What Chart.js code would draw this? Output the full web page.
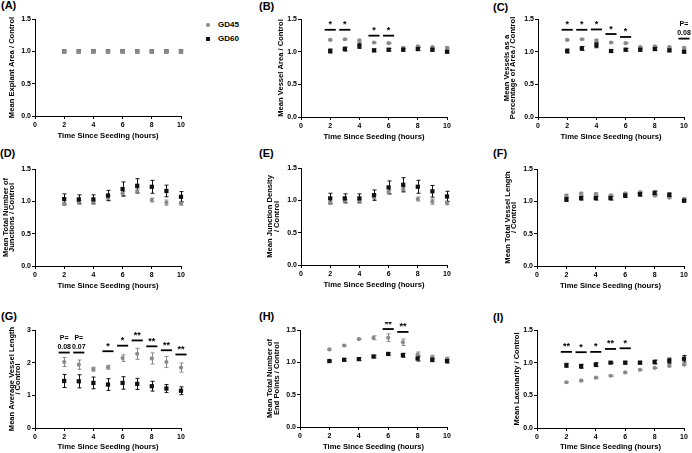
<!DOCTYPE html>
<html>
<head>
<meta charset="utf-8">
<script src="https://cdn.jsdelivr.net/npm/chart.js@4.4.0/dist/chart.umd.min.js"></script>
<style>
  body { margin: 0; background: #fff; width: 692px; height: 453px; position: relative; overflow: hidden;
         font-family: "Liberation Sans", Arial, sans-serif; }
  canvas { position: absolute; }
  .lab { position: absolute; font-weight: bold; font-size: 11px; line-height: 11px; }
  .leg { position: absolute; font-weight: bold; font-size: 8px; line-height: 10px; }
  .dot { position: absolute; }
</style>
</head>
<body>
<div class="lab" style="left:1px;top:0px">(A)</div>
<div class="lab" style="left:259px;top:1px">(B)</div>
<div class="lab" style="left:493px;top:2px">(C)</div>
<div class="lab" style="left:0px;top:148px">(D)</div>
<div class="lab" style="left:259px;top:148px">(E)</div>
<div class="lab" style="left:493px;top:148px">(F)</div>
<div class="lab" style="left:1px;top:311px">(G)</div>
<div class="lab" style="left:259px;top:311px">(H)</div>
<div class="lab" style="left:493px;top:312px">(I)</div>

<div class="dot" style="left:206px;top:23px;width:3.8px;height:3.8px;border-radius:50%;background:#8a8a8a"></div>
<div class="leg" style="left:218px;top:20px">GD45</div>
<div class="dot" style="left:206px;top:37px;width:4px;height:4px;background:#111"></div>
<div class="leg" style="left:218px;top:34px">GD60</div>

<canvas id="cA"></canvas>
<canvas id="cB"></canvas>
<canvas id="cC"></canvas>
<canvas id="cD"></canvas>
<canvas id="cE"></canvas>
<canvas id="cF"></canvas>
<canvas id="cG"></canvas>
<canvas id="cH"></canvas>
<canvas id="cI"></canvas>

<script>
const hours = [2, 3, 4, 5, 6, 7, 8, 9, 10];
const xTicks = [0, 2, 4, 6, 8, 10];
const yTicksRatio = [0, 0.5, 1, 1.5];
const yTicksLength = [0, 1, 2, 3];
const seriesNames = ['GD45', 'GD60'];

// (A) explant area
const explantGd45 = [1, 1, 1, 1, 1, 1, 1, 1, 1];
const explantGd60 = [1, 1, 1, 1, 1, 1, 1, 1, 1];

// (B) vessel area
const vesselAreaGd45 = [1.18, 1.19, 1.17, 1.14, 1.13, 1.06, 1.08, 1.07, 1.06];
const vesselAreaGd45Err = [0.01, 0.01, 0.02, 0.01, 0.01, 0.01, 0.01, 0.01, 0.01];
const vesselAreaGd60 = [1.01, 1.04, 1.09, 1.02, 1.03, 1.03, 1.04, 1.03, 1.00];
const vesselAreaGd60Err = [0.03, 0.03, 0.04, 0.02, 0.02, 0.02, 0.02, 0.02, 0.02];
const vesselAreaSigX = [2, 3, 5, 6];
const vesselAreaSigY = [1.335, 1.335, 1.245, 1.245];
const vesselAreaSigText = ['*', '*', '*', '*'];

// (C) vessels as percentage of area
const vesselPctGd45 = [1.18, 1.19, 1.17, 1.14, 1.13, 1.07, 1.08, 1.07, 1.06];
const vesselPctGd45Err = [0.01, 0.01, 0.02, 0.01, 0.01, 0.01, 0.01, 0.01, 0.01];
const vesselPctGd60 = [1.01, 1.05, 1.10, 1.01, 1.03, 1.03, 1.04, 1.02, 1.00];
const vesselPctGd60Err = [0.03, 0.03, 0.04, 0.02, 0.02, 0.02, 0.02, 0.02, 0.02];
const vesselPctSigX = [2, 3, 4, 5, 6, 10];
const vesselPctSigY = [1.335, 1.335, 1.34, 1.27, 1.225, 1.2];
const vesselPctSigText = ['*', '*', '*', '*', '*', ['P=', '0.08']];

// (D) junctions
const junctionsGd45 = [0.96, 0.99, 0.99, 1.05, 1.12, 1.16, 1.02, 0.98, 0.97];
const junctionsGd45Err = [0.02, 0.02, 0.02, 0.03, 0.03, 0.03, 0.03, 0.04, 0.03];
const junctionsGd60 = [1.035, 1.03, 1.03, 1.09, 1.19, 1.24, 1.225, 1.16, 1.07];
const junctionsGd60Err = [0.08, 0.07, 0.07, 0.08, 0.11, 0.11, 0.10, 0.09, 0.08];

// (E) junction density
const densityGd45 = [0.96, 0.99, 0.99, 1.05, 1.13, 1.17, 1.02, 0.98, 0.96];
const densityGd45Err = [0.02, 0.02, 0.02, 0.03, 0.03, 0.03, 0.03, 0.04, 0.03];
const densityGd60 = [1.03, 1.03, 1.03, 1.08, 1.20, 1.24, 1.21, 1.14, 1.06];
const densityGd60Err = [0.08, 0.07, 0.07, 0.08, 0.10, 0.11, 0.10, 0.09, 0.08];

// (F) total vessel length
const lengthGd45 = [1.09, 1.12, 1.11, 1.09, 1.12, 1.14, 1.09, 1.06, 1.035];
const lengthGd45Err = [0.02, 0.02, 0.02, 0.02, 0.02, 0.02, 0.02, 0.02, 0.02];
const lengthGd60 = [1.03, 1.05, 1.05, 1.05, 1.09, 1.11, 1.13, 1.10, 1.01];
const lengthGd60Err = [0.03, 0.03, 0.03, 0.03, 0.03, 0.03, 0.03, 0.03, 0.02];

// (G) average vessel length
const avgLengthGd45 = [2.02, 1.94, 1.80, 1.86, 2.14, 2.27, 2.13, 2.02, 1.85];
const avgLengthGd45Err = [0.14, 0.14, 0.06, 0.06, 0.10, 0.17, 0.17, 0.17, 0.14];
const avgLengthGd60 = [1.44, 1.43, 1.38, 1.33, 1.38, 1.35, 1.28, 1.21, 1.14];
const avgLengthGd60Err = [0.20, 0.20, 0.18, 0.18, 0.19, 0.17, 0.15, 0.12, 0.12];
const avgLengthSigX = [2, 3, 5, 6, 7, 8, 9, 10];
const avgLengthSigY = [2.31, 2.31, 2.35, 2.52, 2.68, 2.50, 2.38, 2.25];
const avgLengthSigText = [['P=', '0.08'], ['P=', '0.07'], '*', '*', '**', '**', '**', '**'];

// (H) end points
const endPointsGd45 = [1.20, 1.26, 1.36, 1.38, 1.38, 1.31, 1.12, 1.08, 1.05];
const endPointsGd45Err = [0.01, 0.01, 0.01, 0.03, 0.06, 0.05, 0.04, 0.03, 0.03];
const endPointsGd60 = [1.02, 1.04, 1.05, 1.09, 1.13, 1.11, 1.06, 1.04, 1.02];
const endPointsGd60Err = [0.01, 0.02, 0.02, 0.02, 0.02, 0.03, 0.04, 0.03, 0.03];
const endPointsSigX = [6, 7];
const endPointsSigY = [1.515, 1.47];
const endPointsSigText = ['**', '**'];

// (I) lacunarity
const lacunarityGd45 = [0.70, 0.725, 0.77, 0.80, 0.85, 0.89, 0.92, 0.95, 0.97];
const lacunarityGd45Err = [0.01, 0.01, 0.01, 0.01, 0.01, 0.01, 0.01, 0.01, 0.01];
const lacunarityGd60 = [0.96, 0.945, 0.97, 1.00, 1.00, 1.00, 1.01, 1.03, 1.06];
const lacunarityGd60Err = [0.03, 0.03, 0.03, 0.01, 0.02, 0.02, 0.03, 0.04, 0.05];
const lacunaritySigX = [2, 3, 4, 5, 6];
const lacunaritySigY = [1.165, 1.16, 1.165, 1.21, 1.22];
const lacunaritySigText = ['**', '*', '*', '**', '*'];

const FONT = '"Liberation Sans", Arial, sans-serif';
const GRAY = '#8a8a8a';
const BLACK = '#111111';
const YW = 35, XH = 26, PT = 8, PR = 10;

// error bars drawn under the markers
const errorBars = {
  id: 'errorBars',
  beforeDatasetsDraw(chart) {
    const { ctx, scales: { x, y } } = chart;
    chart.data.datasets.forEach(ds => {
      if (!ds.errors) return;
      ctx.save();
      ctx.strokeStyle = ds.borderColor;
      ctx.lineWidth = 1;
      ds.data.forEach((pt, j) => {
        const e = ds.errors[j];
        if (!e) return;
        const px = Math.round(x.getPixelForValue(pt.x)) + 0.5;
        const y1 = y.getPixelForValue(pt.y + e);
        const y2 = y.getPixelForValue(pt.y - e);
        ctx.beginPath();
        ctx.moveTo(px, y1); ctx.lineTo(px, y2);
        ctx.moveTo(px - 2, y1); ctx.lineTo(px + 2, y1);
        ctx.moveTo(px - 2, y2); ctx.lineTo(px + 2, y2);
        ctx.stroke();
      });
      ctx.restore();
    });
  }
};

// significance bars with stars / p-values
const sigBars = {
  id: 'sigBars',
  afterDatasetsDraw(chart, args, opts) {
    if (!opts.x) return;
    const { ctx, scales: { x, y } } = chart;
    ctx.save();
    ctx.fillStyle = '#000';
    ctx.strokeStyle = '#000';
    ctx.lineWidth = 1.8;
    ctx.textAlign = 'center';
    ctx.textBaseline = 'alphabetic';
    opts.x.forEach((xv, i) => {
      const py = y.getPixelForValue(opts.y[i]);
      const x1 = x.getPixelForValue(xv - 0.38);
      const x2 = x.getPixelForValue(xv + 0.38);
      const cx = x.getPixelForValue(xv);
      ctx.beginPath();
      ctx.moveTo(x1, py); ctx.lineTo(x2, py);
      ctx.stroke();
      const t = opts.text[i];
      if (Array.isArray(t)) {
        ctx.font = 'bold 7px ' + FONT;
        ctx.fillText(t[1], cx, py - 3.5);
        ctx.fillText(t[0], cx, py - 12.5);
      } else {
        ctx.font = 'bold 9px ' + FONT;
        ctx.fillText(t, cx, py - 2.5);
      }
    });
    ctx.restore();
  }
};

function pts(vals) {
  return hours.map((h, i) => ({ x: h, y: vals[i] }));
}

function makePanel(id, box, p) {
  const canvas = document.getElementById(id);
  const w = box.right - box.left + YW + PR;
  const h = box.bottom - box.top + PT + XH;
  canvas.width = w; canvas.height = h;
  canvas.style.left = (box.left - YW) + 'px';
  canvas.style.top = (box.top - PT) + 'px';
  canvas.style.width = w + 'px';
  canvas.style.height = h + 'px';

  const lines = Array.isArray(p.yTitle) ? p.yTitle.length : 1;
  const yFont = 7.6, yLH = lines > 1 ? 0.85 : 1.2;
  const yPadTop = box.titleX - (box.left - YW) - yFont * yLH / 2;
  const xFont = 7.7, xLH = 1.2;
  const xPadBottom = XH - box.titleDy - xFont * xLH / 2;

  const grayTop = !!p.grayTop;
  new Chart(canvas, {
    type: 'scatter',
    data: {
      datasets: [
        { label: seriesNames[0], data: pts(p.gd45), errors: p.gd45Err,
          pointStyle: grayTop ? 'rect' : 'circle', pointRadius: grayTop ? 3 : 2.1,
          backgroundColor: GRAY, borderColor: GRAY, borderWidth: 0, clip: false, order: grayTop ? 0 : 1 },
        { label: seriesNames[1], data: pts(p.gd60), errors: p.gd60Err,
          pointStyle: 'rect', pointRadius: 3,
          backgroundColor: BLACK, borderColor: BLACK, borderWidth: 0, clip: false, order: grayTop ? 1 : 0 }
      ]
    },
    options: {
      responsive: false,
      animation: false,
      events: [],
      layout: { padding: { top: PT, right: PR, left: 0, bottom: 0 } },
      plugins: {
        legend: { display: false },
        tooltip: { enabled: false },
        sigBars: { x: p.sigX, y: p.sigY, text: p.sigText }
      },
      scales: {
        x: {
          type: 'linear', min: 0, max: 10,
          afterBuildTicks: ax => { ax.ticks = xTicks.map(v => ({ value: v })); },
          afterFit: ax => { ax.height = XH; },
          grid: { display: true, drawOnChartArea: false, drawTicks: true, tickLength: 3, color: '#000', lineWidth: 1 },
          border: { display: true, color: '#000', width: 1 },
          ticks: { color: '#000', autoSkip: false, maxRotation: 0, padding: 2,
                   font: { family: FONT, size: 7, weight: 'bold' } },
          title: { display: true, text: 'Time Since Seeding (hours)', color: '#000',
                   font: { family: FONT, size: xFont, weight: 'bold', lineHeight: xLH },
                   padding: { top: 0, bottom: xPadBottom } }
        },
        y: {
          min: 0, max: p.yMax,
          afterBuildTicks: ax => { ax.ticks = p.yTicks.map(v => ({ value: v })); },
          afterFit: ax => { ax.width = YW; },
          grid: { display: true, drawOnChartArea: false, drawTicks: true, tickLength: 3, color: '#000', lineWidth: 1 },
          border: { display: true, color: '#000', width: 1 },
          ticks: { color: '#000', padding: 1, autoSkip: false,
                   callback: v => p.decimals ? v.toFixed(1) : String(v),
                   font: { family: FONT, size: 7, weight: 'bold' } },
          title: { display: true, text: p.yTitle, color: '#000',
                   font: { family: FONT, size: yFont, weight: 'bold', lineHeight: yLH },
                   padding: { top: yPadTop, bottom: 0 } }
        }
      }
    },
    plugins: [errorBars, sigBars]
  });
}

makePanel('cA', { left: 35, right: 181, top: 19, bottom: 116, titleX: 12, titleDy: 19.5 }, {
  gd45: explantGd45, gd60: explantGd60, grayTop: true,
  yMax: 1.5, yTicks: yTicksRatio, decimals: true, yTitle: 'Mean Explant Area / Control'
});
makePanel('cB', { left: 301, right: 447, top: 19, bottom: 117, titleX: 281, titleDy: 19.5 }, {
  gd45: vesselAreaGd45, gd45Err: vesselAreaGd45Err, gd60: vesselAreaGd60, gd60Err: vesselAreaGd60Err,
  sigX: vesselAreaSigX, sigY: vesselAreaSigY, sigText: vesselAreaSigText,
  yMax: 1.5, yTicks: yTicksRatio, decimals: true, yTitle: 'Mean Vessel Area / Control'
});
makePanel('cC', { left: 538, right: 684, top: 19, bottom: 117, titleX: 506.8, titleDy: 19.5 }, {
  gd45: vesselPctGd45, gd45Err: vesselPctGd45Err, gd60: vesselPctGd60, gd60Err: vesselPctGd60Err,
  sigX: vesselPctSigX, sigY: vesselPctSigY, sigText: vesselPctSigText,
  yMax: 1.5, yTicks: yTicksRatio, decimals: true, yTitle: ['Mean Vessels as a', 'Percentage of Area / Control']
});
makePanel('cD', { left: 35, right: 181, top: 169, bottom: 266, titleX: 5.8, titleDy: 20 }, {
  gd45: junctionsGd45, gd45Err: junctionsGd45Err, gd60: junctionsGd60, gd60Err: junctionsGd60Err,
  yMax: 1.5, yTicks: yTicksRatio, decimals: true, yTitle: ['Mean Total Number of', 'Junctions / Control']
});
makePanel('cE', { left: 301, right: 447, top: 168, bottom: 265, titleX: 270, titleDy: 20 }, {
  gd45: densityGd45, gd45Err: densityGd45Err, gd60: densityGd60, gd60Err: densityGd60Err,
  yMax: 1.5, yTicks: yTicksRatio, decimals: true, yTitle: ['Mean Junction Density', '/ Control']
});
makePanel('cF', { left: 537, right: 684, top: 169, bottom: 266, titleX: 507.5, titleDy: 19.5 }, {
  gd45: lengthGd45, gd45Err: lengthGd45Err, gd60: lengthGd60, gd60Err: lengthGd60Err,
  yMax: 1.5, yTicks: yTicksRatio, decimals: true, yTitle: ['Mean Total Vessel Length', '/ Control']
});
makePanel('cG', { left: 35, right: 181, top: 330, bottom: 428, titleX: 11.5, titleDy: 18.5 }, {
  gd45: avgLengthGd45, gd45Err: avgLengthGd45Err, gd60: avgLengthGd60, gd60Err: avgLengthGd60Err,
  sigX: avgLengthSigX, sigY: avgLengthSigY, sigText: avgLengthSigText,
  yMax: 3, yTicks: yTicksLength, decimals: false, yTitle: ['Mean Average Vessel Length', '/ Control']
});
makePanel('cH', { left: 300, right: 447, top: 330, bottom: 427, titleX: 270, titleDy: 19.5 }, {
  gd45: endPointsGd45, gd45Err: endPointsGd45Err, gd60: endPointsGd60, gd60Err: endPointsGd60Err,
  sigX: endPointsSigX, sigY: endPointsSigY, sigText: endPointsSigText,
  yMax: 1.5, yTicks: yTicksRatio, decimals: true, yTitle: ['Mean Total Number of', 'End Points / Control']
});
makePanel('cI', { left: 537, right: 684, top: 330, bottom: 428, titleX: 517, titleDy: 18.7 }, {
  gd45: lacunarityGd45, gd45Err: lacunarityGd45Err, gd60: lacunarityGd60, gd60Err: lacunarityGd60Err,
  sigX: lacunaritySigX, sigY: lacunaritySigY, sigText: lacunaritySigText,
  yMax: 1.5, yTicks: yTicksRatio, decimals: true, yTitle: 'Mean Lacunarity / Control'
});
</script>
</body>
</html>
